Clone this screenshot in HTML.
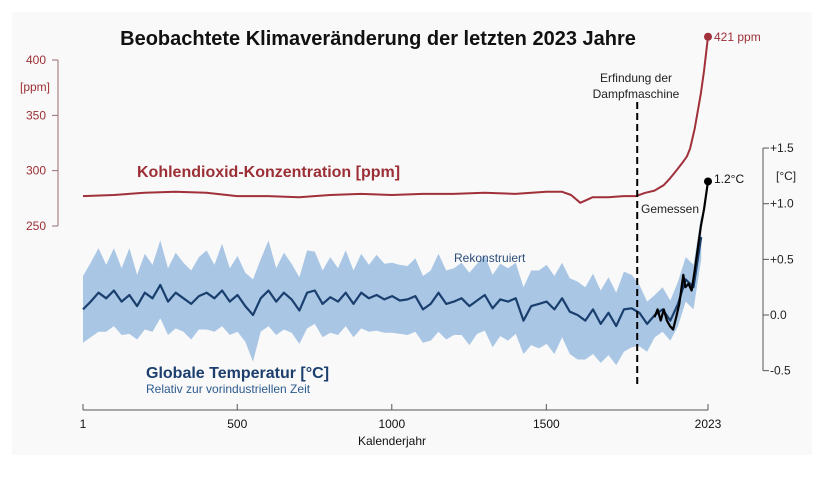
<!DOCTYPE html>
<html><head><meta charset="utf-8"><style>
body{margin:0;background:#fff;font-family:"Liberation Sans",Arial,sans-serif}
svg text{font-family:"Liberation Sans",Arial,sans-serif}
</style></head><body>
<svg id="chart" width="832" height="479" viewBox="0 0 832 479" xmlns="http://www.w3.org/2000/svg">
<rect x="12" y="12" width="800" height="443" fill="#f9f9f9"/>
<g id="layer"></g>
<text x="378" y="45" text-anchor="middle" font-size="20" font-weight="bold" fill="#111">Beobachtete Klimaveränderung der letzten 2023 Jahre</text>
<text x="137" y="177" font-size="16" font-weight="bold" fill="#9b2f35">Kohlendioxid-Konzentration [ppm]</text>
<text x="20" y="91" font-size="12" fill="#9b2f35">[ppm]</text>
<text x="714" y="41" font-size="12" fill="#9b2f35">421 ppm</text>
<text x="636" y="82" text-anchor="middle" font-size="12" fill="#222">Erfindung der</text>
<text x="636" y="98" text-anchor="middle" font-size="12" fill="#222">Dampfmaschine</text>
<text x="454" y="262" font-size="12" fill="#2d4e7a">Rekonstruiert</text>
<text x="641" y="213" font-size="12" fill="#222">Gemessen</text>
<text x="714" y="183" font-size="12" fill="#111">1.2°C</text>
<text x="146" y="378" font-size="16" font-weight="bold" fill="#1d3f6e">Globale Temperatur [°C]</text>
<text x="146" y="393" font-size="12" fill="#2c5a8c">Relativ zur vorindustriellen Zeit</text>
<text x="776" y="180" font-size="12" fill="#222">[°C]</text>
<text x="392" y="445" text-anchor="middle" font-size="12" fill="#111">Kalenderjahr</text>
</svg>
<script>
const co2Years=[1,100,200,300,400,500,600,700,750,800,900,1000,1100,1200,1300,1400,1500,1550,1580,1610,1650,1700,1750,1790,1820,1850,1880,1900,1920,1940,1955,1965,1980,1990,2000,2010,2023];
const co2Values=[277,278,280,281,280,277,277,276,277,278,279,278,279,279,280,279,281,281,278,271,276,276,277,277,280,282,287,293,300,307,313,320,338,354,370,390,421];
const reconYears=[];for(let y=1;y<=2001;y+=25)reconYears.push(y);
const reconMean=[0.05,0.12,0.2,0.15,0.22,0.12,0.18,0.08,0.2,0.15,0.27,0.12,0.2,0.15,0.1,0.17,0.2,0.15,0.22,0.12,0.18,0.08,0.0,0.15,0.22,0.12,0.2,0.14,0.04,0.2,0.22,0.1,0.16,0.12,0.2,0.1,0.2,0.15,0.18,0.14,0.17,0.13,0.14,0.17,0.05,0.1,0.2,0.1,0.12,0.15,0.08,0.13,0.18,0.06,0.14,0.12,0.15,-0.05,0.08,0.1,0.12,0.05,0.15,0.03,0.0,-0.05,0.05,-0.08,0.02,-0.1,0.05,0.06,0.02,-0.08,0.0,0.05,-0.05,0.1,0.32,0.25,0.7];
const reconUp=[0.3,0.35,0.4,0.3,0.38,0.3,0.42,0.28,0.35,0.3,0.4,0.3,0.36,0.32,0.3,0.35,0.38,0.3,0.42,0.3,0.35,0.3,0.32,0.35,0.45,0.3,0.36,0.32,0.3,0.38,0.35,0.3,0.36,0.3,0.38,0.3,0.35,0.3,0.36,0.32,0.3,0.32,0.3,0.34,0.3,0.3,0.35,0.3,0.3,0.32,0.3,0.33,0.35,0.3,0.32,0.3,0.32,0.3,0.32,0.3,0.33,0.3,0.32,0.3,0.3,0.3,0.32,0.3,0.32,0.3,0.34,0.3,0.25,0.2,0.18,0.2,0.18,0.2,0.2,0.2,0.2];
const reconDown=[0.3,0.32,0.35,0.3,0.32,0.3,0.35,0.3,0.33,0.3,0.3,0.3,0.32,0.3,0.32,0.3,0.33,0.3,0.32,0.3,0.33,0.32,0.42,0.3,0.32,0.3,0.33,0.3,0.3,0.32,0.3,0.3,0.32,0.3,0.3,0.3,0.32,0.3,0.32,0.3,0.33,0.3,0.32,0.32,0.3,0.33,0.35,0.32,0.3,0.33,0.35,0.3,0.32,0.35,0.33,0.35,0.32,0.3,0.35,0.4,0.38,0.4,0.35,0.38,0.4,0.35,0.4,0.35,0.38,0.35,0.38,0.35,0.3,0.25,0.2,0.2,0.18,0.2,0.2,0.2,0.2];
const measYears=[1850,1860,1870,1880,1890,1900,1910,1920,1930,1943,1950,1960,1970,1980,1990,2000,2010,2023];
const measValues=[-0.02,0.05,-0.05,0.05,-0.05,-0.1,-0.13,-0.02,0.1,0.36,0.25,0.28,0.22,0.4,0.6,0.8,0.95,1.2];
const xTicks=[1,500,1000,1500,2023];
const co2Ticks=[250,300,350,400];
const tempTicks=[-0.5,0.0,0.5,1.0,1.5];
const tempTickLabels=["-0.5","0.0","+0.5","+1.0","+1.5"];
const steamYear=1794;

const X=y=>83+(y-1)*(708-83)/2022;
const YC=v=>226-(v-250)*(226-60)/150;
const YT=v=>315-v*111.3;
const NS="http://www.w3.org/2000/svg";
const L=document.getElementById('layer');
function mk(t,a){const e=document.createElementNS(NS,t);for(const k in a)e.setAttribute(k,a[k]);L.appendChild(e);return e;}
const pts=(xs,ys,f)=>xs.map((y,i)=>X(y).toFixed(1)+','+f(ys[i]).toFixed(1)).join(' ');

// band
let up=reconYears.map((y,i)=>X(y).toFixed(1)+','+YT(reconMean[i]+reconUp[i]).toFixed(1));
let dn=reconYears.map((y,i)=>X(y).toFixed(1)+','+YT(reconMean[i]-reconDown[i]).toFixed(1)).reverse();
let band=mk('polygon',{points:up.concat(dn).join(' '),fill:'#a9c6e5'});


let rl=mk('polyline',{points:pts(reconYears,reconMean,YT),fill:'none',stroke:'#1a3f6e','stroke-width':2.2,'stroke-linejoin':'round'});


let ml=mk('polyline',{points:pts(measYears,measValues,YT),fill:'none',stroke:'#000','stroke-width':2.2,'stroke-linejoin':'round'});


let md=mk('circle',{cx:X(measYears[measYears.length-1]),cy:YT(measValues[measValues.length-1]),r:4,fill:'#000'});


let cl=mk('polyline',{points:pts(co2Years,co2Values,YC),fill:'none',stroke:'#a0303a','stroke-width':2,'stroke-linejoin':'round'});


let cd=mk('circle',{cx:X(co2Years[co2Years.length-1]),cy:YC(co2Values[co2Values.length-1]),r:4,fill:'#a0303a'});


let sl=mk('line',{x1:X(steamYear),x2:X(steamYear),y1:102,y2:384,stroke:'#000','stroke-width':2,'stroke-dasharray':'7,4'});



// x axis
let xa=mk('line',{x1:X(1),x2:X(2023),y1:410,y2:410,stroke:'#555'});


xTicks.forEach(t=>{
 let tk=mk('line',{x1:X(t),x2:X(t),y1:410,y2:404,stroke:'#555'});
 
 
 let tx=mk('text',{x:X(t),y:428,'text-anchor':'middle','font-size':12,fill:'#111'});tx.textContent=t;
 
 
});
// co2 axis
let ca=mk('line',{x1:58,x2:58,y1:YC(400),y2:YC(250),stroke:'#9b6b6e'});


co2Ticks.forEach(t=>{
 let tk=mk('line',{x1:52,x2:58,y1:YC(t),y2:YC(t),stroke:'#9b6b6e'});
 
 
 let tx=mk('text',{x:46,y:YC(t)+4,'text-anchor':'end','font-size':12,fill:'#9b2f35'});tx.textContent=t;
 
 
});
// temp axis
let ta=mk('line',{x1:763,x2:763,y1:YT(1.5),y2:YT(-0.5),stroke:'#555'});


tempTicks.forEach((t,i)=>{
 let tk=mk('line',{x1:763,x2:769,y1:YT(t),y2:YT(t),stroke:'#555'});
 
 
 let tx=mk('text',{x:770,y:YT(t)+4,'font-size':12,fill:'#222'});tx.textContent=tempTickLabels[i];
 
 
});
</script>
</body></html>
